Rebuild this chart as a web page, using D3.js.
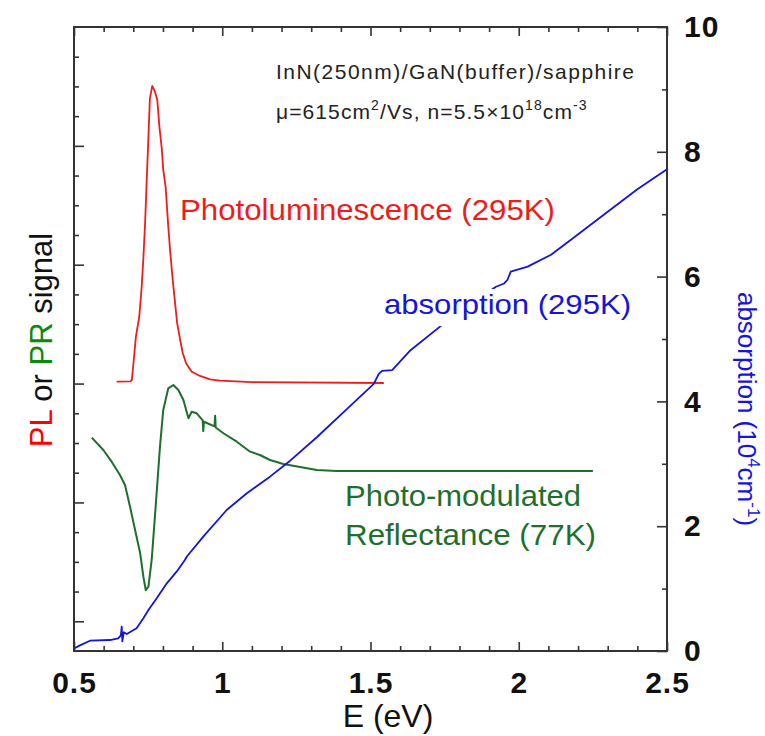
<!DOCTYPE html>
<html>
<head>
<meta charset="utf-8">
<script src="https://cdn.jsdelivr.net/npm/d3@7"></script>
<style>
  body { margin: 0; background: #fff; }
  svg text { font-family: "Liberation Sans", Arial, Helvetica, sans-serif; }
</style>
</head>
<body>
<svg id="chart" width="765" height="736"></svg>
<script>
// Photoluminescence at 295 K: photon energy (eV) and signal (arb. units, left axis)
const plEnergy = [0.644, 0.690, 0.695, 0.700, 0.709, 0.720, 0.728, 0.734, 0.740, 0.745, 0.751, 0.756,
  0.764, 0.773, 0.781, 0.788, 0.796, 0.801, 0.809, 0.818, 0.824, 0.833, 0.841, 0.848, 0.858, 0.867,
  0.878, 0.897, 0.925, 0.959, 0.992, 1.100, 1.545];
const plSignal = [2.016, 2.018, 2.030, 2.156, 2.400, 2.560, 2.804, 3.057, 3.362, 3.698, 4.077, 4.400,
  4.504, 4.456, 4.386, 4.161, 3.979, 3.797, 3.656, 3.320, 3.124, 2.871, 2.675, 2.507, 2.367, 2.255,
  2.171, 2.100, 2.064, 2.036, 2.024, 2.012, 2.005];

// Photo-modulated reflectance at 77 K (arb. units, left axis)
const prEnergy = [0.560, 0.599, 0.627, 0.655, 0.672, 0.689, 0.706, 0.723, 0.734, 0.742, 0.751, 0.762,
  0.777, 0.790, 0.801, 0.818, 0.835, 0.852, 0.869, 0.886, 0.897, 0.914, 0.934, 0.936, 0.938, 0.974,
  0.976, 0.978, 1.004, 1.049, 1.094, 1.127, 1.161, 1.206, 1.319, 1.386, 2.250];
const prSignal = [1.545, 1.441, 1.343, 1.231, 1.147, 0.964, 0.768, 0.575, 0.375, 0.263, 0.291, 0.516,
  1.021, 1.469, 1.778, 1.960, 1.988, 1.946, 1.862, 1.708, 1.763, 1.750, 1.690, 1.600, 1.679, 1.640,
  1.730, 1.630, 1.582, 1.511, 1.427, 1.399, 1.357, 1.323, 1.273, 1.265, 1.265];

// Absorption coefficient at 295 K (10^4 cm^-1, right axis)
const absEnergy = [0.500, 0.520, 0.554, 0.621, 0.649, 0.658, 0.661, 0.663, 0.668, 0.678, 0.711, 0.734,
  0.751, 0.779, 0.813, 0.846, 0.874, 0.880, 0.936, 1.015, 1.083, 1.161, 1.229, 1.319, 1.421, 1.511,
  1.528, 1.539, 1.573, 1.635, 1.748, 1.835, 1.923, 1.951, 1.962, 1.973, 2.030, 2.109, 2.176, 2.300,
  2.400, 2.500];
const absCoeff = [0.040, 0.090, 0.165, 0.176, 0.204, 0.250, 0.390, 0.154, 0.300, 0.272, 0.364, 0.524,
  0.657, 0.845, 1.085, 1.271, 1.458, 1.511, 1.832, 2.260, 2.527, 2.794, 3.050, 3.425, 3.880, 4.280,
  4.440, 4.490, 4.500, 4.820, 5.250, 5.550, 5.837, 5.890, 5.950, 6.080, 6.160, 6.350, 6.590, 7.040,
  7.400, 7.720];

// Axis ticks
const xMajorTicks = [0.5, 1, 1.5, 2, 2.5];
const xMinorTicks = [0.6, 0.7, 0.8, 0.9, 1.1, 1.2, 1.3, 1.4, 1.6, 1.7, 1.8, 1.9, 2.1, 2.2, 2.3, 2.4];
const leftMajorTicks = [0, 1, 2, 3, 4];
const leftMinorTicks = [0.25, 0.5, 0.75, 1.25, 1.5, 1.75, 2.25, 2.5, 2.75, 3.25, 3.5, 3.75, 4.25, 4.5, 4.75];
const rightMajorTicks = [0, 2, 4, 6, 8, 10];
const rightMinorTicks = [1, 3, 5, 7, 9];

const frame = { left: 74, right: 667, top: 27, bottom: 651 };
const axisColor = "#333";
const red = "#ee1c1c", green = "#1f6f2c", blue = "#1414dc";

const svg = d3.select("#chart");

const x = d3.scaleLinear().domain([0.5, 2.5]).range([frame.left, frame.right]);
const yL = d3.scaleLinear().domain([-0.25, 5]).range([frame.bottom, frame.top]);
const yR = d3.scaleLinear().domain([0, 10]).range([frame.bottom, frame.top]);

function styleAxis(g) {
  g.select(".domain").remove();
  g.selectAll(".tick line").attr("stroke", axisColor).attr("stroke-width", 1.6);
}
function styleLabels(g) {
  g.selectAll(".tick text").attr("font-size", 30).attr("font-weight", "bold")
    .attr("fill", "#111").attr("letter-spacing", 1)
    .style("font-family", "'Liberation Sans', Arial, sans-serif");
}

// Bottom axis (labelled majors + minors)
svg.append("g").attr("transform", `translate(0,${frame.bottom})`)
  .call(d3.axisBottom(x).tickValues(xMajorTicks).tickSizeInner(-9).tickSizeOuter(0).tickPadding(21)
    .tickFormat(d => String(d)))
  .call(styleAxis).call(styleLabels);
svg.append("g").attr("transform", `translate(0,${frame.bottom})`)
  .call(d3.axisBottom(x).tickValues(xMinorTicks).tickSizeInner(-5).tickSizeOuter(0).tickFormat(""))
  .call(styleAxis);

// Top axis ticks only
svg.append("g").attr("transform", `translate(0,${frame.top})`)
  .call(d3.axisTop(x).tickValues(xMajorTicks).tickSizeInner(-9).tickSizeOuter(0).tickFormat(""))
  .call(styleAxis);
svg.append("g").attr("transform", `translate(0,${frame.top})`)
  .call(d3.axisTop(x).tickValues(xMinorTicks).tickSizeInner(-5).tickSizeOuter(0).tickFormat(""))
  .call(styleAxis);

// Left axis (signal, no labels)
svg.append("g").attr("transform", `translate(${frame.left},0)`)
  .call(d3.axisLeft(yL).tickValues(leftMajorTicks).tickSizeInner(-10).tickSizeOuter(0).tickFormat(""))
  .call(styleAxis);
svg.append("g").attr("transform", `translate(${frame.left},0)`)
  .call(d3.axisLeft(yL).tickValues(leftMinorTicks).tickSizeInner(-5).tickSizeOuter(0).tickFormat(""))
  .call(styleAxis);

// Right axis (absorption)
svg.append("g").attr("transform", `translate(${frame.right},0)`)
  .call(d3.axisRight(yR).tickValues(rightMajorTicks).tickSizeInner(-10).tickSizeOuter(0).tickPadding(17)
    .tickFormat(d => String(d)))
  .call(styleAxis).call(styleLabels);
svg.append("g").attr("transform", `translate(${frame.right},0)`)
  .call(d3.axisRight(yR).tickValues(rightMinorTicks).tickSizeInner(-5).tickSizeOuter(0).tickFormat(""))
  .call(styleAxis);

// Plot frame
svg.append("rect")
  .attr("x", frame.left).attr("y", frame.top)
  .attr("width", frame.right - frame.left).attr("height", frame.bottom - frame.top)
  .attr("fill", "none").attr("stroke", axisColor).attr("stroke-width", 2);

// Curves
const lineL = d3.line().x(d => x(d[0])).y(d => yL(d[1]));
const lineR = d3.line().x(d => x(d[0])).y(d => yR(d[1]));

svg.append("path").datum(d3.zip(prEnergy, prSignal))
  .attr("d", lineL).attr("fill", "none").attr("stroke", green).attr("stroke-width", 2)
  .attr("stroke-linejoin", "round");
svg.append("path").datum(d3.zip(plEnergy, plSignal))
  .attr("d", lineL).attr("fill", "none").attr("stroke", red).attr("stroke-width", 1.8)
  .attr("stroke-linejoin", "round");
svg.append("path").datum(d3.zip(absEnergy, absCoeff))
  .attr("d", lineR).attr("fill", "none").attr("stroke", blue).attr("stroke-width", 1.8)
  .attr("stroke-linejoin", "round");

// Curve labels
const absLabel = svg.append("g");
absLabel.append("rect").attr("x", 379).attr("y", 289).attr("width", 258).attr("height", 37).attr("fill", "#fff");
absLabel.append("text").attr("x", 384).attr("y", 314).attr("font-size", 28).attr("fill", blue)
  .attr("textLength", 247).attr("lengthAdjust", "spacingAndGlyphs").text("absorption (295K)");

svg.append("text").attr("x", 180).attr("y", 220).attr("font-size", 30).attr("fill", red)
  .attr("textLength", 375).attr("lengthAdjust", "spacingAndGlyphs").text("Photoluminescence (295K)");

svg.append("text").attr("x", 345).attr("y", 506).attr("font-size", 30).attr("fill", green)
  .attr("textLength", 236).attr("lengthAdjust", "spacingAndGlyphs").text("Photo-modulated");
svg.append("text").attr("x", 345).attr("y", 545).attr("font-size", 30).attr("fill", green)
  .attr("textLength", 251).attr("lengthAdjust", "spacingAndGlyphs").text("Reflectance (77K)");

// Sample annotation
svg.append("text").attr("x", 276).attr("y", 79).attr("font-size", 21).attr("fill", "#222")
  .attr("textLength", 358).text("InN(250nm)/GaN(buffer)/sapphire");
const note2 = svg.append("text").attr("x", 276).attr("y", 119).attr("font-size", 21)
  .attr("fill", "#222").attr("letter-spacing", 1.1);
note2.append("tspan").text("\u03bc=615cm");
note2.append("tspan").attr("font-size", 14).attr("dy", -9).text("2");
note2.append("tspan").attr("dy", 9).text("/Vs, n=5.5\u00d710");
note2.append("tspan").attr("font-size", 14).attr("dy", -9).text("18");
note2.append("tspan").attr("dy", 9).text("cm");
note2.append("tspan").attr("font-size", 14).attr("dy", -9).text("-3");

// Axis titles
svg.append("text").attr("x", 388).attr("y", 727).attr("text-anchor", "middle")
  .attr("font-size", 32).attr("fill", "#111").text("E (eV)");

const leftTitle = svg.append("text")
  .attr("transform", "translate(52,340) rotate(-90)")
  .attr("text-anchor", "middle").attr("font-size", 31);
leftTitle.append("tspan").attr("fill", "#ff0000").text("PL");
leftTitle.append("tspan").attr("fill", "#111").text(" or ");
leftTitle.append("tspan").attr("fill", "#0a8a0a").text("PR");
leftTitle.append("tspan").attr("fill", "#111").text(" signal");

const rightTitle = svg.append("text")
  .attr("transform", "translate(738,409) rotate(90)")
  .attr("text-anchor", "middle").attr("font-size", 26).attr("fill", blue);
rightTitle.append("tspan").text("absorption (10");
rightTitle.append("tspan").attr("font-size", 17).attr("dy", -10).text("4");
rightTitle.append("tspan").attr("dy", 10).text("cm");
rightTitle.append("tspan").attr("font-size", 17).attr("dy", -10).text("-1");
rightTitle.append("tspan").attr("dy", 10).text(")");
</script>
</body>
</html>
